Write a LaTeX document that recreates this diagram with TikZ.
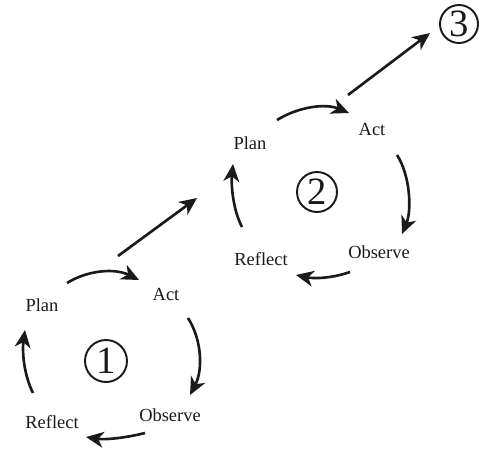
\documentclass[tikz,border=0pt]{standalone}
\usepackage{fontspec}
\setmainfont{Liberation Serif}
\usetikzlibrary{arrows.meta}
\definecolor{ink}{HTML}{1A1A1A}
\begin{document}
\begin{tikzpicture}[x=0.02cm,y=-0.02cm,
  lbl/.style={font=\fontsize{10.5}{12}\selectfont, text=ink, inner sep=0pt},
  num/.style={circle, draw=ink, line width=1.1pt, minimum size=40*0.02cm, inner sep=0pt,
    font=\fontsize{22}{22}\selectfont, text=ink},
  arr/.style={line width=1.5pt, draw=ink, -{Stealth[length=10pt,width=9pt,inset=3pt]}}]
\useasboundingbox (0,0) rectangle (480,454);
% cycle 1
\node[lbl] (plan1) at (42,305) {Plan};
\node[lbl] (act1) at (166,294) {Act};
\node[lbl] (obs1) at (170,415) {Observe};
\node[lbl] (ref1) at (52,422) {Reflect};
\node[num, minimum size=42*0.02cm] (c1) at (106,361) {1};
\coordinate (a1s) at (67,283); \coordinate (a1e) at (139,280);
\coordinate (b1s) at (188,318); \coordinate (b1e) at (190,395);
\coordinate (d1s) at (145,433); \coordinate (d1e) at (86,437);
\coordinate (e1s) at (33,393); \coordinate (e1e) at (25,330);
\draw[arr] (a1s) .. controls (88,270) and (115,268) .. (a1e);
\draw[arr] (b1s) .. controls (202,340) and (203,370) .. (b1e);
\draw[arr] (d1s) .. controls (125,438) and (105,440) .. (d1e);
\draw[arr] (e1s) .. controls (24,375) and (22,352) .. (e1e);
% link 1 -> 2
\coordinate (l1s) at (118,256); \coordinate (l1e) at (197,198);
\draw[arr] (l1s) -- (l1e);
% cycle 2
\node[lbl] (plan2) at (250,143) {Plan};
\node[lbl] (act2) at (372,129) {Act};
\node[lbl] (obs2) at (379,252) {Observe};
\node[lbl] (ref2) at (261,259) {Reflect};
\node[num] (c2) at (317,192) {2};
\coordinate (a2s) at (277,120); \coordinate (a2e) at (349,113);
\coordinate (b2s) at (397,155); \coordinate (b2e) at (402,234);
\coordinate (d2s) at (350,272); \coordinate (d2e) at (296,275);
\coordinate (e2s) at (242,227); \coordinate (e2e) at (233,164);
\draw[arr] (a2s) .. controls (298,107) and (325,103) .. (a2e);
\draw[arr] (b2s) .. controls (410,175) and (412,210) .. (b2e);
\draw[arr] (d2s) .. controls (333,278) and (315,279) .. (d2e);
\draw[arr] (e2s) .. controls (233,210) and (231,185) .. (e2e);
% link 2 -> 3
\node[num, minimum size=38*0.02cm] (c3) at (459,24) {3};
\coordinate (l2s) at (348,95); \coordinate (l2e) at (430,33);
\draw[arr] (l2s) -- (l2e);
\end{tikzpicture}
\end{document}
